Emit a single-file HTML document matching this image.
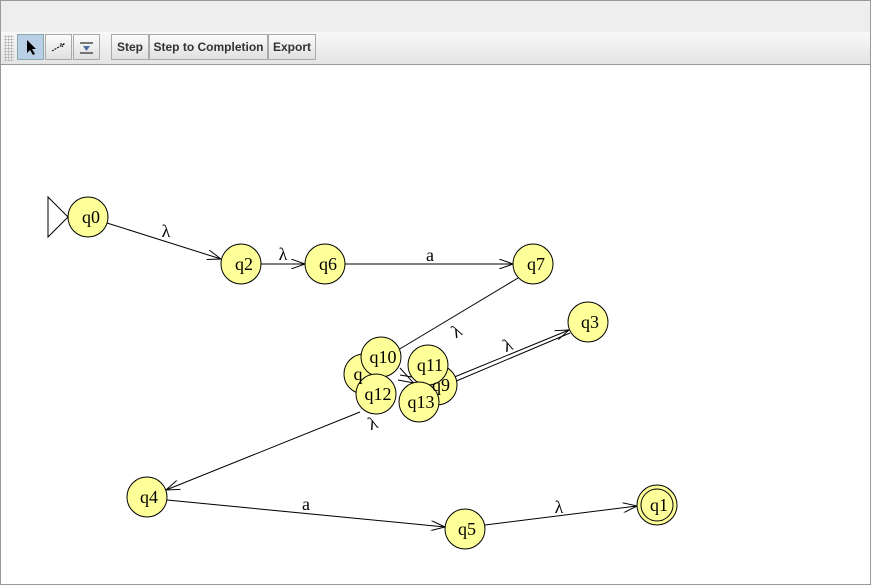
<!DOCTYPE html>
<html><head><style>
body{margin:0;width:871px;height:586px;overflow:hidden;background:#fff;font-family:"Liberation Sans",sans-serif;}
.top{position:absolute;left:0;top:0;width:869px;height:32px;background:#eeeeee;border:1px solid #999;border-bottom:none;}
.tb{position:absolute;left:0;top:32px;width:869px;height:32px;background:linear-gradient(#f8f8f8,#e4e4e4);border-left:1px solid #999;border-right:1px solid #999;border-bottom:1px solid #999;}
.grip{position:absolute;left:3px;top:3px;width:10px;height:26px;background-image:radial-gradient(#aaa 1px,transparent 1px);background-size:3px 3px;}
.b{position:absolute;top:2px;height:24px;border:1px solid #aaa;background:linear-gradient(#fbfbfb,#e0e0e0);font-size:12px;font-weight:bold;color:#333;line-height:24px;text-align:center;}
.canvas{position:absolute;left:0;top:65px;width:869px;height:519px;border-left:1px solid #999;border-right:1px solid #999;border-bottom:1px solid #999;}
</style></head><body>
<div class="top"></div>
<div class="tb"><div class="grip"></div>
<div class="b" style="left:16px;width:25px;background:#b8cfe5;border-color:#8aa">
<svg width="25" height="24"><path d="M9 5 L9 18 L12 15 L15 20 L17 19 L14 14 L18 14 Z" fill="#000"/></svg></div>
<div class="b" style="left:44px;width:25px"><svg width="25" height="24"><path d="M6 16 L18 9 M14 9 L18 9 L16 12" stroke="#000" fill="none" stroke-dasharray="2 1"/></svg></div>
<div class="b" style="left:72px;width:25px"><svg width="25" height="24"><path d="M6 8 H19 M6 18 H19" stroke="#000"/><path d="M9 11 L16 11 L12.5 16 Z" fill="#4a6fa0"/></svg></div>
<div class="b" style="left:110px;width:36px">Step</div>
<div class="b" style="left:148px;width:117px">Step to Completion</div>
<div class="b" style="left:267px;width:46px">Export</div>
</div>
<div class="canvas"></div>
<svg style="position:absolute;left:0;top:0" width="871" height="586" font-family="Liberation Serif,serif" font-size="18">
<defs><marker id="a" markerWidth="14" markerHeight="10" refX="14" refY="5" orient="auto" markerUnits="userSpaceOnUse"><path d="M0 0 L14 5 L0 10" fill="none" stroke="#000"/></marker></defs>
<g stroke="#000" stroke-width="1" fill="none">
<path d="M48 197 L68 217 L48 237 Z"/>
<line x1="107" y1="223" x2="221" y2="259" marker-end="url(#a)"/>
<line x1="261" y1="264" x2="305" y2="264" marker-end="url(#a)"/>
<line x1="345" y1="264" x2="513" y2="264" marker-end="url(#a)"/>
<line x1="518" y1="278" x2="398" y2="350"/>
<line x1="452" y1="378" x2="569" y2="330" marker-end="url(#a)"/>
<line x1="454" y1="382" x2="570" y2="333"/>
<line x1="360" y1="412" x2="166" y2="490" marker-end="url(#a)"/>
<line x1="167" y1="500" x2="445" y2="527" marker-end="url(#a)"/>
<line x1="485" y1="525" x2="637" y2="506" marker-end="url(#a)"/>
<path d="M400 375 L430 380 M398 380 L430 386 M400 368 L420 390"/>
</g>
<g fill="#ffff99" stroke="#000">
<circle cx="88" cy="217" r="20"/><circle cx="241" cy="264" r="20"/><circle cx="325" cy="264" r="20"/>
<circle cx="533" cy="264" r="20"/><circle cx="588" cy="322" r="20"/><circle cx="147" cy="497" r="20"/>
<circle cx="465" cy="529" r="20"/><circle cx="657" cy="505" r="20"/><circle cx="657" cy="505" r="16"/>
<circle cx="364" cy="374" r="20"/><circle cx="437" cy="385" r="20"/><circle cx="428" cy="365" r="20"/>
<circle cx="381" cy="357" r="20"/><circle cx="376" cy="394" r="20"/><circle cx="419" cy="402" r="20"/>
</g>
<g text-anchor="middle" fill="#000">
<text x="91" y="223">q0</text><text x="244" y="270">q2</text><text x="328" y="270">q6</text>
<text x="536" y="270">q7</text><text x="590" y="328">q3</text><text x="149" y="503">q4</text>
<text x="467" y="535">q5</text><text x="659" y="511">q1</text>
<text x="441" y="391">q9</text><text x="430" y="371">q11</text><text x="358" y="380">q</text>
<text x="383" y="363">q10</text><text x="378" y="400">q12</text><text x="421" y="408">q13</text>
<text x="166" y="237">λ</text><text x="283" y="260">λ</text><text x="430" y="261">a</text>
<text x="457" y="337" transform="rotate(-30 457 332)">λ</text>
<text x="508" y="351" transform="rotate(-22 508 346)">λ</text>
<text x="373" y="429" transform="rotate(-20 373 424)">λ</text>
<text x="306" y="510">a</text><text x="559" y="513">λ</text>
</g>
</svg>
</body></html>
